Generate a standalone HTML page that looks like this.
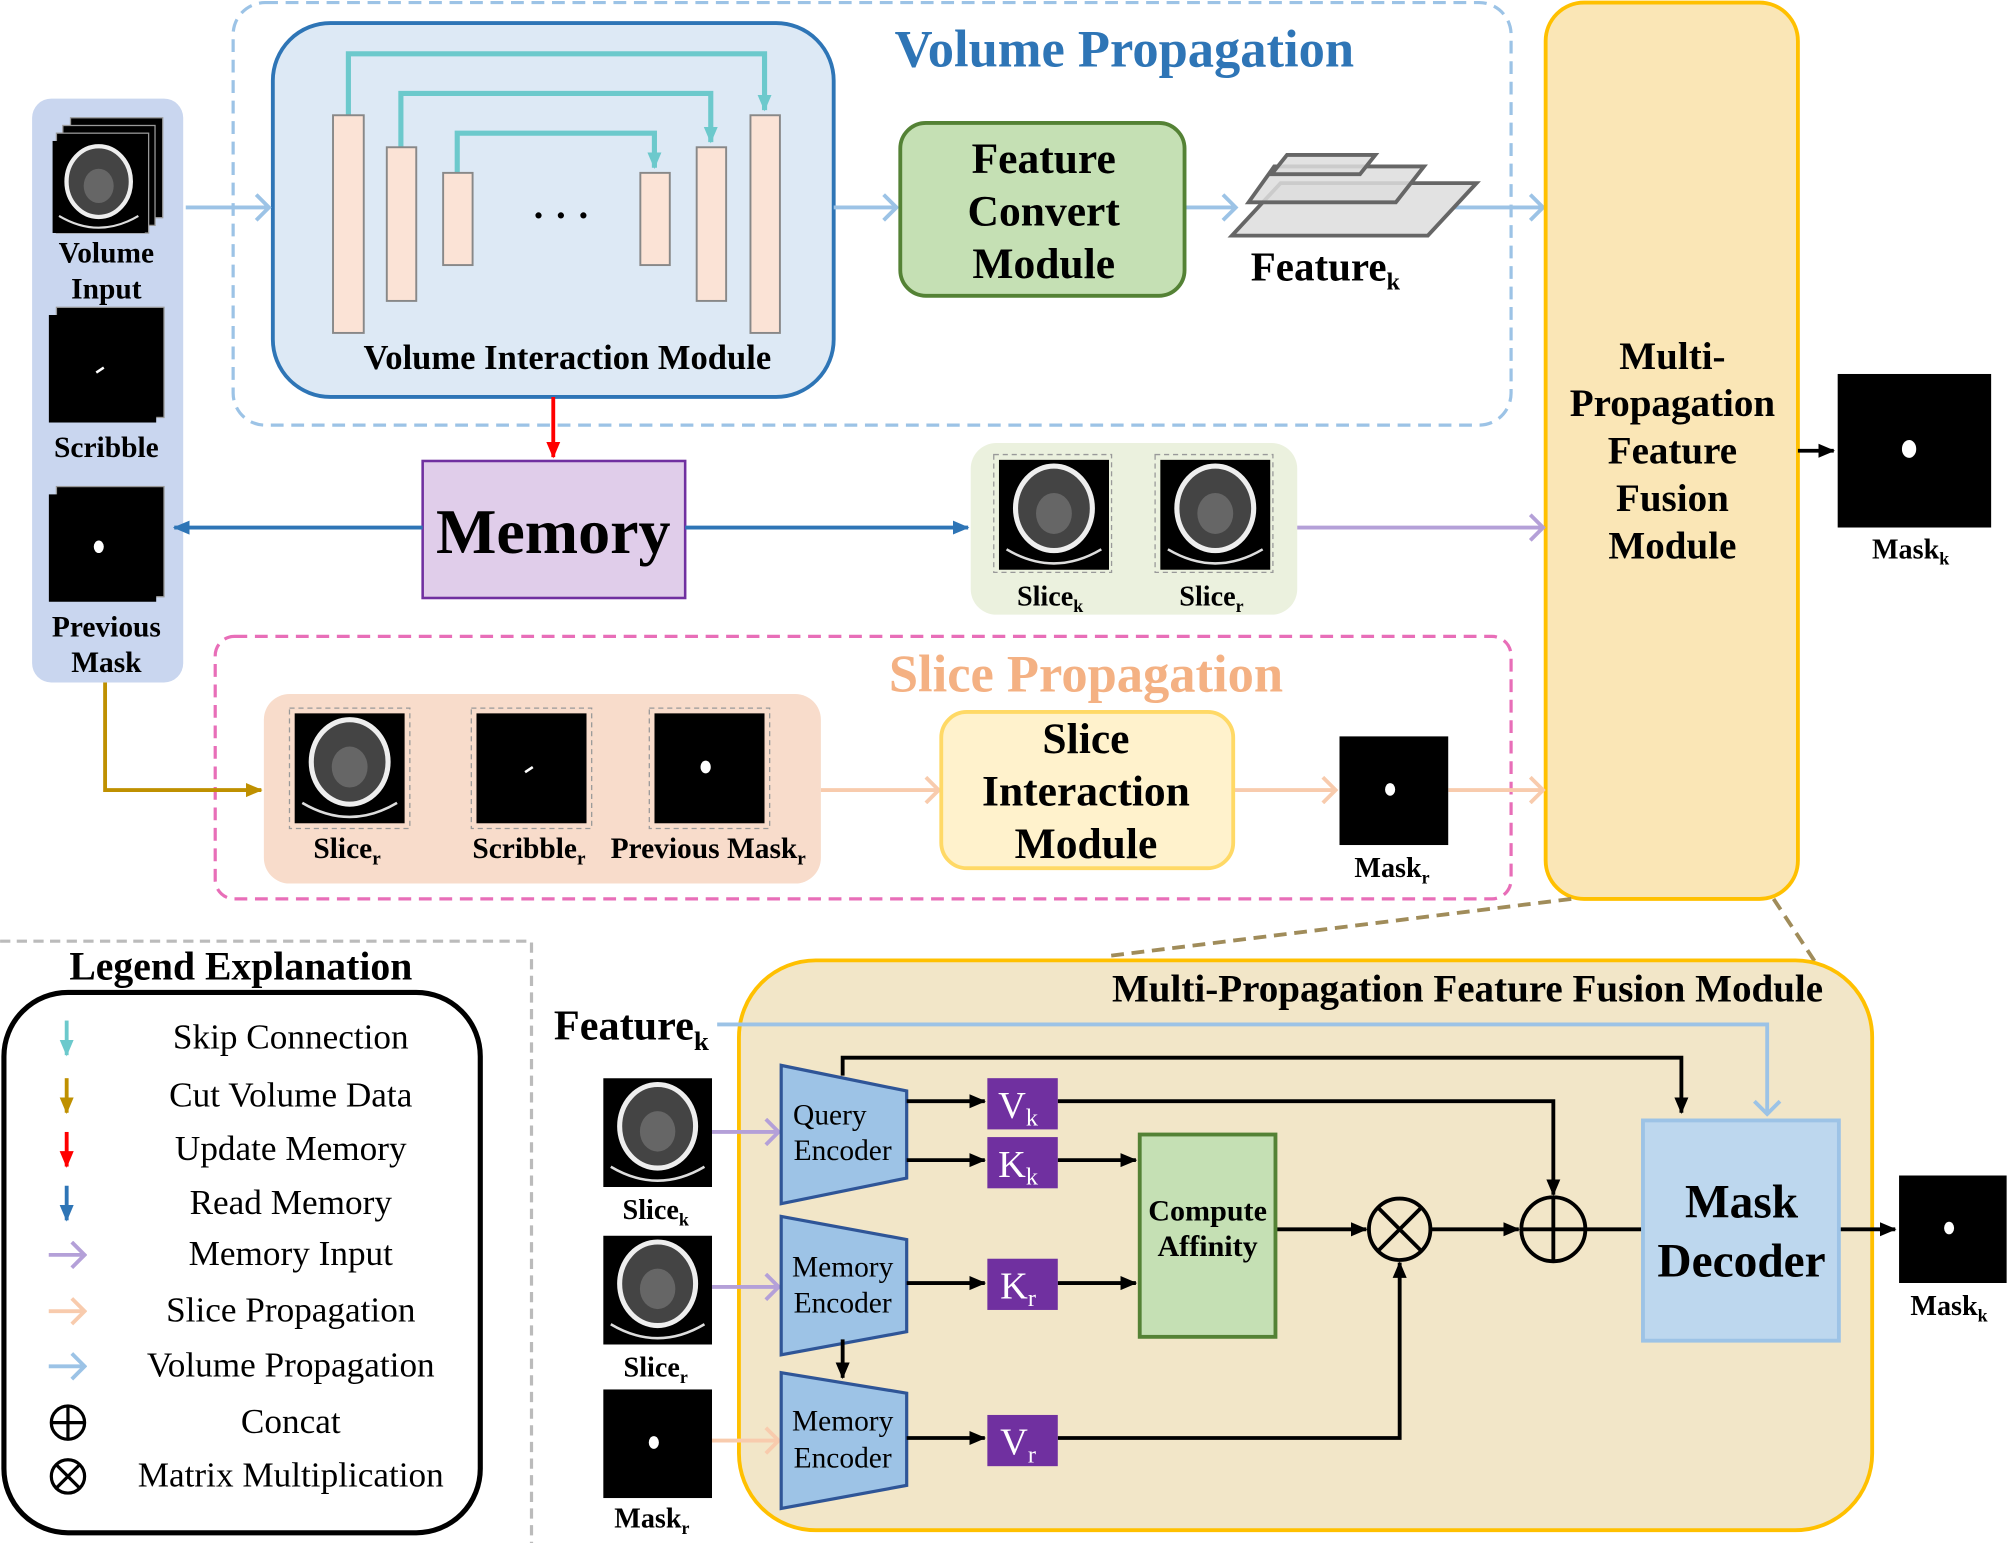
<!DOCTYPE html>
<html><head><meta charset="utf-8"><style>
html,body{margin:0;padding:0;background:#fff}
svg{display:block}
text{font-family:"Liberation Serif",serif;font-weight:bold;fill:#000;text-anchor:middle}
.n{font-weight:normal}
</style></head><body>
<svg width="2008" height="1543" viewBox="0 0 1568 1205" xmlns="http://www.w3.org/2000/svg">
<defs>
<marker id="cLB" markerWidth="14" markerHeight="22" refX="12" refY="11" orient="auto" markerUnits="userSpaceOnUse" viewBox="0 0 14 22"><path d="M2,1 L12,11 L2,21" fill="none" stroke="#9cc3e6" stroke-width="3"/></marker>
<marker id="cPE" markerWidth="14" markerHeight="22" refX="12" refY="11" orient="auto" markerUnits="userSpaceOnUse" viewBox="0 0 14 22"><path d="M2,1 L12,11 L2,21" fill="none" stroke="#f8cbad" stroke-width="3"/></marker>
<marker id="cPU" markerWidth="14" markerHeight="22" refX="12" refY="11" orient="auto" markerUnits="userSpaceOnUse" viewBox="0 0 14 22"><path d="M2,1 L12,11 L2,21" fill="none" stroke="#b4a0d8" stroke-width="3"/></marker>
<marker id="tK" markerWidth="13" markerHeight="13" refX="12" refY="6.5" orient="auto" markerUnits="userSpaceOnUse" viewBox="0 0 13 13"><path d="M0,1 L13,6.5 L0,12z" fill="#000"/></marker>
<marker id="tR" markerWidth="13" markerHeight="13" refX="12" refY="6.5" orient="auto" markerUnits="userSpaceOnUse" viewBox="0 0 13 13"><path d="M0,1 L13,6.5 L0,12z" fill="#f00"/></marker>
<marker id="tB" markerWidth="13" markerHeight="13" refX="12" refY="6.5" orient="auto" markerUnits="userSpaceOnUse" viewBox="0 0 13 13"><path d="M0,1 L13,6.5 L0,12z" fill="#2e75b6"/></marker>
<marker id="tT" markerWidth="13" markerHeight="13" refX="12" refY="6.5" orient="auto" markerUnits="userSpaceOnUse" viewBox="0 0 13 13"><path d="M0,1 L13,6.5 L0,12z" fill="#6cc9cc"/></marker>
<marker id="tO" markerWidth="13" markerHeight="13" refX="12" refY="6.5" orient="auto" markerUnits="userSpaceOnUse" viewBox="0 0 13 13"><path d="M0,1 L13,6.5 L0,12z" fill="#bf9000"/></marker>
<symbol id="ct" viewBox="0 0 86 86"><rect width="86" height="86" fill="#000"/><ellipse cx="43" cy="38" rx="30" ry="33" fill="#444" stroke="#eee" stroke-width="4"/><ellipse cx="43" cy="42" rx="14" ry="16" fill="#666"/><path d="M6,70 Q43,92 80,70" fill="none" stroke="#ddd" stroke-width="2"/></symbol>
<symbol id="mk" viewBox="0 0 86 86"><rect width="86" height="86" fill="#000"/><ellipse cx="40" cy="42" rx="4" ry="5" fill="#fff"/></symbol>
<symbol id="sc" viewBox="0 0 86 86"><rect width="86" height="86" fill="#000"/><path d="M38,46 L44,42" stroke="#fff" stroke-width="2"/></symbol>
</defs>

<rect x="182" y="2" width="998" height="330" rx="25" fill="none" stroke="#9cc3e6" stroke-width="2.5" stroke-dasharray="10,6"/>
<text x="878" y="52" style="font-size:41px;fill:#2e75b6">Volume Propagation</text>
<rect x="213" y="18" width="438" height="292" rx="45" fill="#dde9f5" stroke="#2e75b6" stroke-width="3"/>
<g fill="none" stroke="#6cc9cc" stroke-width="4">
<path d="M272,90 V42 H597 V86" marker-end="url(#tT)"/>
<path d="M313,115 V73 H555 V111" marker-end="url(#tT)"/>
<path d="M357,135 V104 H511 V131" marker-end="url(#tT)"/>
</g>
<g fill="#fbe3d6" stroke="#888" stroke-width="1.5">
<rect x="260" y="90" width="24" height="170"/><rect x="302" y="115" width="23" height="120"/><rect x="346" y="135" width="23" height="72"/>
<rect x="500" y="135" width="23" height="72"/><rect x="544" y="115" width="23" height="120"/><rect x="586" y="90" width="23" height="170"/>
</g>
<text x="438" y="178" style="font-size:30px">· · ·</text>
<text x="443" y="288" style="font-size:27px">Volume Interaction Module</text>

<rect x="25" y="77" width="118" height="456" rx="15" fill="#c9d6ef"/>
<rect x="55" y="92" width="72" height="78" fill="#000" stroke="#999"/>
<rect x="49" y="98" width="72" height="78" fill="#000" stroke="#999"/>
<rect x="44" y="104" width="72" height="78" fill="#000" stroke="#999"/>
<use href="#ct" x="38" y="110" width="78" height="72"/>
<text x="83" y="205" style="font-size:23px">Volume</text>
<text x="83" y="233" style="font-size:23px">Input</text>
<rect x="44" y="240" width="84" height="86" fill="#000" stroke="#999"/>
<use href="#sc" x="38" y="246" width="84" height="84"/>
<text x="83" y="357" style="font-size:23px">Scribble</text>
<rect x="44" y="380" width="84" height="86" fill="#000" stroke="#999"/>
<use href="#mk" x="38" y="386" width="84" height="84"/>
<text x="83" y="497" style="font-size:23px">Previous</text>
<text x="83" y="525" style="font-size:23px">Mask</text>

<g fill="none" stroke="#9cc3e6" stroke-width="3">
<path d="M145,162 H210" marker-end="url(#cLB)"/>
<path d="M651,162 H700" marker-end="url(#cLB)"/>
<path d="M925,162 H965" marker-end="url(#cLB)"/>
<path d="M1135,162 H1205" marker-end="url(#cLB)"/>
</g>
<rect x="703" y="96" width="222" height="135" rx="20" fill="#c5e0b4" stroke="#548235" stroke-width="3"/>
<text x="815" y="135" style="font-size:34px">Feature</text>
<text x="815" y="176" style="font-size:34px">Convert</text>
<text x="815" y="217" style="font-size:34px">Module</text>
<g stroke="#666" stroke-width="3" fill="#ddd" fill-opacity="0.85">
<polygon points="1000,143 1153,143 1115,184 962,184"/>
<polygon points="995,130 1112,130 1090,158 975,158"/>
<polygon points="1005,121 1074,121 1062,136 993,136"/>
</g>
<text x="1035" y="219" style="font-size:32px">Feature<tspan dy="7" style="font-size:19px">k</tspan></text>

<rect x="1207" y="2" width="197" height="700" rx="30" fill="#fae6b6" stroke="#ffc000" stroke-width="3"/>
<text x="1306" y="288" style="font-size:30.5px">Multi-</text>
<text x="1306" y="325" style="font-size:30.5px">Propagation</text>
<text x="1306" y="362" style="font-size:30.5px">Feature</text>
<text x="1306" y="399" style="font-size:30.5px">Fusion</text>
<text x="1306" y="436" style="font-size:30.5px">Module</text>
<path d="M1404,352 H1432" stroke="#000" stroke-width="3" marker-end="url(#tK)"/>
<use href="#mk" x="1435" y="292" width="120" height="120"/>
<text x="1492" y="436" style="font-size:22px">Mask<tspan dy="5" style="font-size:14px">k</tspan></text>

<path d="M432,310 V357" stroke="#f00" stroke-width="3" marker-end="url(#tR)"/>
<rect x="330" y="360" width="205" height="107" fill="#e0cdea" stroke="#7030a0" stroke-width="2"/>
<text x="432" y="432" style="font-size:50px">Memory</text>
<path d="M330,412 H136" stroke="#2e75b6" stroke-width="3" marker-end="url(#tB)"/>
<path d="M535,412 H756" stroke="#2e75b6" stroke-width="3" marker-end="url(#tB)"/>
<rect x="758" y="346" width="255" height="134" rx="20" fill="#ebf1de"/>
<rect x="776" y="355" width="92" height="92" fill="none" stroke="#999" stroke-dasharray="4,3"/>
<rect x="902" y="355" width="92" height="92" fill="none" stroke="#999" stroke-dasharray="4,3"/>
<use href="#ct" x="780" y="359" width="86" height="86"/>
<use href="#ct" x="906" y="359" width="86" height="86"/>
<text x="820" y="473" style="font-size:22px">Slice<tspan dy="5" style="font-size:14px">k</tspan></text>
<text x="946" y="473" style="font-size:22px">Slice<tspan dy="5" style="font-size:14px">r</tspan></text>
<path d="M1013,412 H1205" stroke="#b4a0d8" stroke-width="3" fill="none" marker-end="url(#cPU)"/>

<rect x="168" y="497" width="1012" height="205" rx="15" fill="none" stroke="#e86eb8" stroke-width="2.5" stroke-dasharray="10,6"/>
<text x="848" y="540" style="font-size:41px;fill:#f4b183">Slice Propagation</text>
<path d="M82,533 V617 H204" fill="none" stroke="#bf9000" stroke-width="3" marker-end="url(#tO)"/>
<rect x="206" y="542" width="435" height="148" rx="20" fill="#f8dccb"/>
<g fill="none" stroke="#999" stroke-dasharray="4,3">
<rect x="226" y="553" width="94" height="94"/><rect x="368" y="553" width="94" height="94"/><rect x="507" y="553" width="94" height="94"/></g>
<use href="#ct" x="230" y="557" width="86" height="86"/>
<use href="#sc" x="372" y="557" width="86" height="86"/>
<use href="#mk" x="511" y="557" width="86" height="86"/>
<text x="271" y="670" style="font-size:23px">Slice<tspan dy="5" style="font-size:15px">r</tspan></text>
<text x="413" y="670" style="font-size:23px">Scribble<tspan dy="5" style="font-size:15px">r</tspan></text>
<text x="553" y="670" style="font-size:23px">Previous Mask<tspan dy="5" style="font-size:15px">r</tspan></text>
<g fill="none" stroke="#f8cbad" stroke-width="3">
<path d="M641,617 H733" marker-end="url(#cPE)"/>
<path d="M963,617 H1043" marker-end="url(#cPE)"/>
<path d="M1131,617 H1205" marker-end="url(#cPE)"/>
</g>
<rect x="735" y="556" width="228" height="122" rx="20" fill="#fff2cc" stroke="#ffd966" stroke-width="3"/>
<text x="848" y="588" style="font-size:34px">Slice</text>
<text x="848" y="629" style="font-size:34px">Interaction</text>
<text x="848" y="670" style="font-size:34px">Module</text>
<use href="#mk" x="1046" y="575" width="85" height="85"/>
<text x="1087" y="685" style="font-size:22px">Mask<tspan dy="5" style="font-size:14px">r</tspan></text>

<path d="M1227,702 L862,747 M1385,702 L1418,752" stroke="#a08c5a" stroke-width="3" stroke-dasharray="10,6"/>

<path d="M0,735 H415 V1205" fill="none" stroke="#bbb" stroke-width="2.5" stroke-dasharray="8,5"/>
<text x="188" y="765" style="font-size:31px">Legend Explanation</text>
<rect x="3" y="775" width="372" height="422" rx="50" fill="#fff" stroke="#000" stroke-width="4"/>
<g stroke-width="3" fill="none">
<path d="M52,797 V824" stroke="#6cc9cc" marker-end="url(#tT)"/>
<path d="M52,842 V869" stroke="#bf9000" marker-end="url(#tO)"/>
<path d="M52,884 V911" stroke="#f00" marker-end="url(#tR)"/>
<path d="M52,926 V953" stroke="#2e75b6" marker-end="url(#tB)"/>
<path d="M38,980 H66" stroke="#b4a0d8" marker-end="url(#cPU)"/>
<path d="M38,1024 H66" stroke="#f8cbad" marker-end="url(#cPE)"/>
<path d="M38,1067 H66" stroke="#9cc3e6" marker-end="url(#cLB)"/>
<g stroke="#000" stroke-width="2.5"><circle cx="53" cy="1111" r="13"/><path d="M40,1111 H66 M53,1098 V1124"/>
<circle cx="53" cy="1153" r="13"/><path d="M44,1144 L62,1162 M62,1144 L44,1162"/></g>
</g>
<g style="font-size:27.5px">
<text class="n" x="227" y="819">Skip Connection</text>
<text class="n" x="227" y="864">Cut Volume Data</text>
<text class="n" x="227" y="906">Update Memory</text>
<text class="n" x="227" y="948">Read Memory</text>
<text class="n" x="227" y="988">Memory Input</text>
<text class="n" x="227" y="1032">Slice Propagation</text>
<text class="n" x="227" y="1075">Volume Propagation</text>
<text class="n" x="227" y="1119">Concat</text>
<text class="n" x="227" y="1161">Matrix Multiplication</text>
</g>

<rect x="577" y="750" width="885" height="445" rx="60" fill="#f2e6c8" stroke="#ffc000" stroke-width="3"/>
<text x="1146" y="782" style="font-size:30.5px">Multi-Propagation Feature Fusion Module</text>
<text x="493" y="812" style="font-size:33px">Feature<tspan dy="8" style="font-size:21px">k</tspan></text>
<path d="M560,800 H1380 V870" fill="none" stroke="#9cc3e6" stroke-width="3" marker-end="url(#cLB)"/>

<use href="#ct" x="471" y="842" width="85" height="85"/>
<text x="512" y="952" style="font-size:22px">Slice<tspan dy="5" style="font-size:14px">k</tspan></text>
<use href="#ct" x="471" y="965" width="85" height="85"/>
<text x="512" y="1075" style="font-size:22px">Slice<tspan dy="5" style="font-size:14px">r</tspan></text>
<use href="#mk" x="471" y="1085" width="85" height="85"/>
<text x="509" y="1193" style="font-size:22px">Mask<tspan dy="5" style="font-size:14px">r</tspan></text>
<path d="M556,884 H608" stroke="#b4a0d8" stroke-width="3" fill="none" marker-end="url(#cPU)"/>
<path d="M556,1005 H608" stroke="#b4a0d8" stroke-width="3" fill="none" marker-end="url(#cPU)"/>
<path d="M556,1125 H608" stroke="#f8cbad" stroke-width="3" fill="none" marker-end="url(#cPE)"/>

<g fill="#9dc3e6" stroke="#2f5597" stroke-width="2.5">
<polygon points="610,832 708,852 708,920 610,940"/>
<polygon points="610,950 708,968 708,1040 610,1058"/>
<polygon points="610,1072 708,1088 708,1160 610,1178"/>
</g>
<g style="font-size:23px"><text class="n" x="648" y="878">Query</text><text class="n" x="658" y="906">Encoder</text>
<text class="n" x="658" y="997">Memory</text><text class="n" x="658" y="1025">Encoder</text>
<text class="n" x="658" y="1117">Memory</text><text class="n" x="658" y="1146">Encoder</text></g>

<g fill="none" stroke="#000" stroke-width="3">
<path d="M658,840 V826 H1313 V869" marker-end="url(#tK)"/>
<path d="M708,860 H769" marker-end="url(#tK)"/>
<path d="M708,906 H769" marker-end="url(#tK)"/>
<path d="M826,860 H1213 V933" marker-end="url(#tK)"/>
<path d="M826,906 H887" marker-end="url(#tK)"/>
<path d="M708,1002 H769" marker-end="url(#tK)"/>
<path d="M826,1002 H887" marker-end="url(#tK)"/>
<path d="M658,1046 V1076" marker-end="url(#tK)"/>
<path d="M708,1123 H769" marker-end="url(#tK)"/>
<path d="M826,1123 H1093 V986" marker-end="url(#tK)"/>
<path d="M996,960 H1067" marker-end="url(#tK)"/>
<path d="M1117,960 H1186" marker-end="url(#tK)"/>
<path d="M1238,960 H1282"/>
<path d="M1436,960 H1480" marker-end="url(#tK)"/>
<circle cx="1093" cy="960" r="24"/><path d="M1076,943 L1110,977 M1110,943 L1076,977"/>
<circle cx="1213" cy="960" r="25"/><path d="M1188,960 H1238 M1213,935 V985"/>
</g>
<g fill="#7030a0"><rect x="771" y="842" width="55" height="40"/><rect x="771" y="888" width="55" height="40"/><rect x="771" y="983" width="55" height="40"/><rect x="771" y="1105" width="55" height="40"/></g>
<g style="font-size:30px">
<text class="n" x="795" y="873" style="fill:#fff">V<tspan dy="6" style="font-size:19px">k</tspan></text>
<text class="n" x="795" y="919" style="fill:#fff">K<tspan dy="6" style="font-size:19px">k</tspan></text>
<text class="n" x="795" y="1014" style="fill:#fff">K<tspan dy="6" style="font-size:19px">r</tspan></text>
<text class="n" x="795" y="1136" style="fill:#fff">V<tspan dy="6" style="font-size:19px">r</tspan></text>
</g>
<rect x="890" y="886" width="106" height="158" fill="#c5e0b4" stroke="#548235" stroke-width="3"/>
<text x="943" y="953" style="font-size:23.5px">Compute</text>
<text x="943" y="981" style="font-size:23.5px">Affinity</text>
<rect x="1283" y="875" width="153" height="172" fill="#bdd7ee" stroke="#9dc3e6" stroke-width="3"/>
<text x="1360" y="951" style="font-size:37px">Mask</text>
<text x="1360" y="997" style="font-size:37px">Decoder</text>
<use href="#mk" x="1482" y="918" width="86" height="84"/>
<text x="1522" y="1027" style="font-size:22px">Mask<tspan dy="5" style="font-size:14px">k</tspan></text>
</svg>
</body></html>
